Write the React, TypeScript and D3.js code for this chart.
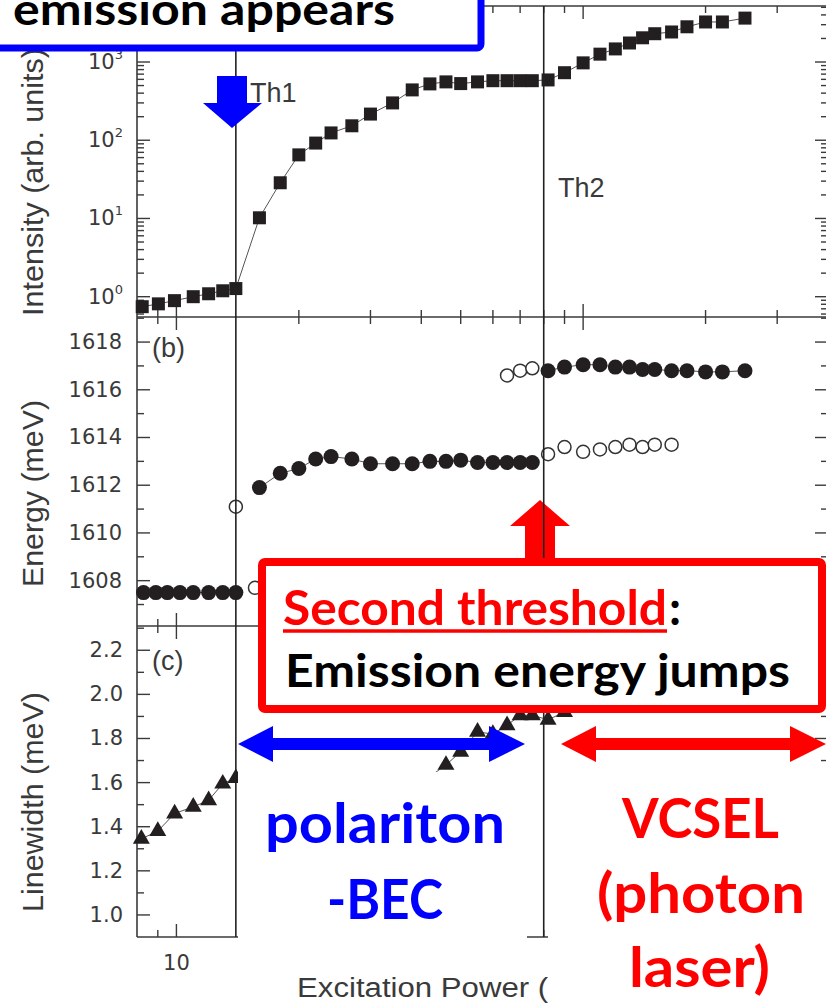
import * as d3 from "d3";

// (a) emission intensity vs excitation power (squares)
const powerA = [8.24, 9.03, 9.89, 11, 12, 13, 14, 16, 18, 20, 22, 24, 27, 30, 34, 38, 42, 46, 50, 55, 60, 65, 70, 75, 82, 90, 100, 110, 120, 130, 140, 150, 165, 180, 200, 220, 250];
const intensityA = [0.745, 0.81, 0.89, 1.0, 1.09, 1.19, 1.27, 10.2, 28.6, 65, 92, 124, 153, 216, 300, 440, 525, 557, 530, 557, 577, 577, 577, 577, 590, 730, 975, 1260, 1470, 1750, 2040, 2300, 2420, 2820, 3250, 3250, 3640];

// (b) emission energy: filled = main peak, open = secondary peak
const powerLowFilled = [8.3, 8.9, 9.5, 10.2, 11, 12, 13, 14];
const energyLowFilled = [1607.5, 1607.5, 1607.5, 1607.5, 1607.5, 1607.5, 1607.5, 1607.5];
const powerMidFilled = [16, 18, 20, 22, 24, 27, 30, 34, 38, 42, 46, 50, 55, 60, 65, 70, 75];
const energyMidFilled = [1611.9, 1612.5, 1612.7, 1613.1, 1613.2, 1613.1, 1612.9, 1612.9, 1612.9, 1613.0, 1613.0, 1613.05, 1612.95, 1612.95, 1612.95, 1612.95, 1612.95];
const powerHighFilled = [82, 90, 100, 110, 120, 130, 140, 150, 165, 180, 200, 220, 250];
const energyHighFilled = [1616.8, 1616.95, 1617.05, 1617.05, 1616.95, 1616.95, 1616.85, 1616.85, 1616.8, 1616.8, 1616.75, 1616.75, 1616.8];
const powerOpen = [14, 15.6, 65, 70, 75, 82, 90, 100, 110, 120, 130, 140, 150, 165];
const energyOpen = [1611.1, 1607.7, 1616.6, 1616.8, 1616.9, 1613.3, 1613.6, 1613.4, 1613.5, 1613.6, 1613.7, 1613.6, 1613.7, 1613.7];

// (c) linewidth (triangles)
const powerC = [8.2, 9, 9.9, 11, 12, 13, 14, 16, 20, 27, 34, 40, 46, 50, 55, 60, 65, 70, 75, 82, 90];
const linewidthC = [1.345, 1.38, 1.46, 1.49, 1.52, 1.595, 1.62, 1.52, 1.54, 1.56, 1.58, 1.6, 1.68, 1.74, 1.83, 1.82, 1.86, 1.905, 1.905, 1.885, 1.92];

const thresholds = [
  { p: 14, label: "Th1", lx: 250, ly: 102 },
  { p: 80, label: "Th2", lx: 558, ly: 197 },
];

const xTickLabels = [10, 100];
const energyTicks = [1608, 1610, 1612, 1614, 1616, 1618];
const linewidthTicks = [1.0, 1.2, 1.4, 1.6, 1.8, 2.0, 2.2];

const X0 = 137;
const X1 = 828;
const INK = "#231f20";
const GREY = "#3a3a3a";
const TICKF = "'DejaVu Sans', sans-serif";
const LABF = "'Liberation Sans', Arial, sans-serif";
const ANNF = "Lato, 'Open Sans', sans-serif";
const BLUE = "#0000ff";
const RED = "#ff0000";

export default function App() {
  const x = d3.scaleLog().domain([8, 400]).range([X0, X1]);
  const yA = d3.scaleLog().domain([0.55, 5200]).range([317, 6]);
  const yB = d3.scaleLinear().domain([1606.1, 1619.05]).range([626, 317]);
  const yC = d3.scaleLinear().domain([0.9, 2.31]).range([937, 626]);

  const isPow10 = (v: number) => Math.abs(Math.log10(v) - Math.round(Math.log10(v))) < 1e-9;
  const xTicks = x.ticks().filter((v) => x(v) > X0 + 1 && x(v) < X1 - 1);

  // x ticks on each horizontal boundary
  const xTickMarks = (y: number, up: boolean, down: boolean, key: string) =>
    xTicks.map((v, i) => {
      const len = isPow10(v) ? 13 : 7;
      return (
        <line
          key={key + i}
          x1={x(v)}
          x2={x(v)}
          y1={up ? y - len : y}
          y2={down ? y + len : y}
          stroke={GREY}
          strokeWidth={1.4}
        />
      );
    });

  const yTickMarks = (vals: number[], scale: (v: number) => number, major: (v: number) => boolean, key: string) =>
    vals.map((v, i) => {
      const len = major(v) ? 13 : 7;
      const yy = scale(v);
      return (
        <g key={key + i}>
          <line x1={X0} x2={X0 + len} y1={yy} y2={yy} stroke={GREY} strokeWidth={1.4} />
          <line x1={X1 - len} x2={X1} y1={yy} y2={yy} stroke={GREY} strokeWidth={1.4} />
        </g>
      );
    });

  const yATicks = yA.ticks();
  const yBTicks = d3.range(1607, 1620).filter((v) => v <= 1619.05);
  const yCTicks = d3.range(10, 24).map((v) => v / 10);

  const lineA = d3.line<number>().x((d, i) => x(powerA[i])).y((d) => yA(d));
  const sq = d3.symbol(d3.symbolSquare, 169)()!;
  const tri = d3.symbol(d3.symbolTriangle, 125)()!;

  const seg = (px: number[], py: number[], sy: (v: number) => number) =>
    d3.line<number>().x((d, i) => x(px[i])).y((d) => sy(d))(py)!;

  return (
    <svg
      width={826}
      height={1004}
      style={{ position: "absolute", left: 0, top: 0, background: "#fff" }}
    >
      {/* frames */}
      <g stroke={GREY} strokeWidth={1.6} fill="none">
        <line x1={X0} x2={X0} y1={6} y2={937} />
        <line x1={X1} x2={X1} y1={6} y2={937} />
        {[6, 317, 626, 937].map((y) => (
          <line key={y} x1={X0} x2={X1} y1={y} y2={y} />
        ))}
      </g>
      {xTickMarks(6, false, true, "t")}
      {xTickMarks(317, true, true, "m1")}
      {xTickMarks(626, true, true, "m2")}
      {xTickMarks(937, true, false, "b")}
      {yTickMarks(yATicks, yA, isPow10, "ya")}
      {yTickMarks(yBTicks, yB, (v) => v % 2 === 0, "yb")}
      {yTickMarks(yCTicks, yC, (v) => Math.round(v * 10) % 2 === 0, "yc")}

      {/* tick labels */}
      <g fontFamily={TICKF} fontSize={21} fill={GREY}>
        {yATicks.filter(isPow10).map((v) => (
          <text key={v} x={88} y={yA(v) + 7}>
            10
            <tspan fontSize={13} dy={-10}>
              {Math.round(Math.log10(v))}
            </tspan>
          </text>
        ))}
        {energyTicks.map((v) => (
          <text key={v} x={122} y={yB(v) + 7} textAnchor="end">
            {v}
          </text>
        ))}
        {linewidthTicks.map((v) => (
          <text key={v} x={123} y={yC(v) + 7} textAnchor="end">
            {v.toFixed(1)}
          </text>
        ))}
        {xTickLabels.map((v) => (
          <text key={v} x={x(v)} y={970} textAnchor="middle">
            {v}
          </text>
        ))}
      </g>

      {/* axis titles */}
      <g fontFamily={LABF} fontSize={29} fill={GREY}>
        <text transform="translate(43,316) rotate(-90)" textLength={268} lengthAdjust="spacingAndGlyphs">
          Intensity (arb. units)
        </text>
        <text transform="translate(43,587) rotate(-90)" textLength={187} lengthAdjust="spacingAndGlyphs">
          Energy (meV)
        </text>
        <text transform="translate(43,912) rotate(-90)" textLength={220} lengthAdjust="spacingAndGlyphs">
          Linewidth (meV)
        </text>
        <text x={297} y={997} fontSize={27} textLength={317} lengthAdjust="spacingAndGlyphs">
          Excitation Power (mW)
        </text>
      </g>

      {/* panel labels */}
      <g fontFamily={LABF} fontSize={27} fill={GREY}>
        <text x={152} y={357}>(b)</text>
        <text x={152} y={670}>(c)</text>
      </g>

      {/* (a) squares */}
      <path d={lineA(intensityA)!} fill="none" stroke="#555" strokeWidth={1} />
      {powerA.map((p, i) => (
        <path key={i} d={sq} transform={`translate(${x(p)},${yA(intensityA[i])})`} fill={INK} />
      ))}

      {/* (b) circles */}
      <g fill="none" stroke="#555" strokeWidth={1}>
        <path d={seg(powerLowFilled, energyLowFilled, yB)} />
        <path d={seg(powerMidFilled, energyMidFilled, yB)} />
        <path d={seg(powerHighFilled, energyHighFilled, yB)} />
      </g>
      {powerLowFilled.map((p, i) => (
        <circle key={"lf" + i} cx={x(p)} cy={yB(energyLowFilled[i])} r={7.5} fill={INK} />
      ))}
      {powerMidFilled.map((p, i) => (
        <circle key={"mf" + i} cx={x(p)} cy={yB(energyMidFilled[i])} r={7.5} fill={INK} />
      ))}
      {powerHighFilled.map((p, i) => (
        <circle key={"hf" + i} cx={x(p)} cy={yB(energyHighFilled[i])} r={7.5} fill={INK} />
      ))}
      {powerOpen.map((p, i) => (
        <circle key={"o" + i} cx={x(p)} cy={yB(energyOpen[i])} r={6.5} fill="#fff" stroke="#333" strokeWidth={1.5} />
      ))}

      {/* (c) triangles */}
      <path d={seg(powerC, linewidthC, yC)} fill="none" stroke="#555" strokeWidth={1} />
      {powerC.map((p, i) => (
        <path key={i} d={tri} transform={`translate(${x(p)},${yC(linewidthC[i])})`} fill={INK} />
      ))}

      {/* red up arrow */}
      <polygon
        points="540,500 570,526 555,526 555,558 525,558 525,526 510,526"
        fill={RED}
      />

      {/* threshold lines */}
      {thresholds.map((t) => (
        <g key={t.label}>
          <line x1={x(t.p)} x2={x(t.p)} y1={6} y2={937} stroke="#222" strokeWidth={1.6} />
          <text x={t.lx} y={t.ly} fontFamily={LABF} fontSize={27} fill={GREY}>
            {t.label}
          </text>
        </g>
      ))}

      {/* white masks */}
      <rect x={238} y={772} width={289} height={178} fill="#fff" />
      <rect x={548} y={765} width={290} height={250} fill="#fff" />

      {/* blue box */}
      <rect x={-10} y={-10} width={491} height={58} rx={4} fill="#fff" stroke={BLUE} strokeWidth={7} />
      <text x={13} y={25} fontFamily={ANNF} fontWeight={700} fontSize={43} fill="#000" textLength={382} lengthAdjust="spacingAndGlyphs">
        emission appears
      </text>
      <polygon points="217,76 247,76 247,103 262,103 232,128 203,103 217,103" fill={BLUE} />

      {/* red box */}
      <rect x={262} y={562} width={560} height={147} rx={3} fill="#fff" stroke={RED} strokeWidth={8} />
      <text x={283} y={625} fontFamily={ANNF} fontWeight={700} fontSize={47} fill={RED} textLength={384} lengthAdjust="spacingAndGlyphs">
        Second threshold
      </text>
      <line x1={283} x2={667} y1={631} y2={631} stroke={RED} strokeWidth={3.5} />
      <text x={669} y={625} fontFamily={ANNF} fontWeight={700} fontSize={47} fill="#000">
        :
      </text>
      <text x={285} y={687} fontFamily={ANNF} fontWeight={700} fontSize={46} fill="#000" textLength={505} lengthAdjust="spacingAndGlyphs">
        Emission energy jumps
      </text>

      {/* regime arrows */}
      <polygon
        points="238,744 273,726 273,738 489,738 489,726 525,744 489,762 489,750 273,750 273,762"
        fill={BLUE}
      />
      <polygon
        points="561,744 596,726 596,738 790,738 790,726 826,744 790,762 790,750 596,750 596,762"
        fill={RED}
      />

      {/* regime labels */}
      <g fontFamily={ANNF} fontWeight={700} fontSize={55}>
        <text x={265} y={843} fill={BLUE} textLength={240} lengthAdjust="spacingAndGlyphs">
          polariton
        </text>
        <text x={327} y={919} fill={BLUE} textLength={116} lengthAdjust="spacingAndGlyphs">
          -BEC
        </text>
        <text x={622} y={838} fill={RED} textLength={157} lengthAdjust="spacingAndGlyphs">
          VCSEL
        </text>
        <text x={597} y={913} fill={RED} textLength={208} lengthAdjust="spacingAndGlyphs">
          (photon
        </text>
        <text x={629} y={987} fill={RED} textLength={141} lengthAdjust="spacingAndGlyphs">
          laser)
        </text>
      </g>
    </svg>
  );
}
